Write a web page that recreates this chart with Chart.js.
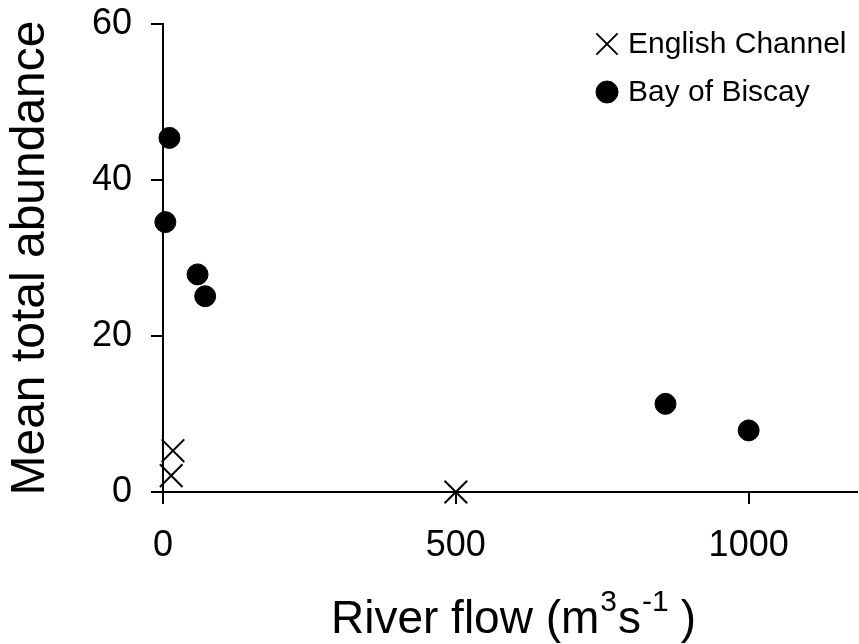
<!DOCTYPE html>
<html>
<head>
<meta charset="utf-8">
<script src="https://cdn.jsdelivr.net/npm/chart.js@4.4.1/dist/chart.umd.min.js"></script>
<style>
  html, body { margin: 0; padding: 0; background: #fff; }
  #wrap { width: 859px; height: 644px; }
</style>
</head>
<body>
<div id="wrap"><canvas id="chart" width="859" height="644"></canvas></div>
<script>
// river flow (m3 s-1) vs mean total abundance
const channelFlow = [17, 14, 500];
const channelAbundance = [5.3, 2.1, 0];
const biscayFlow = [11, 4, 59, 72, 858, 1000];
const biscayAbundance = [45.4, 34.6, 27.9, 25.1, 11.3, 7.9];
const seriesNames = ['English Channel', 'Bay of Biscay'];
const xTicks = [0, 500, 1000];
const yTicks = [0, 20, 40, 60];

const FONT = 'Liberation Sans, Arial, sans-serif';

const toPoints = (xs, ys) => xs.map((x, i) => ({ x: x, y: ys[i] }));

// no extra room for tick labels, the plot box is fixed by layout padding
const noPad = s => { s.paddingTop = 0; s.paddingBottom = 0; s.paddingLeft = 0; s.paddingRight = 0; };

// legend in the top right corner of the plot
const cornerLegend = {
  id: 'cornerLegend',
  afterDraw(chart) {
    const ctx = chart.ctx;
    ctx.save();
    ctx.font = '30px ' + FONT;
    ctx.textBaseline = 'middle';
    chart.data.datasets.forEach((ds, i) => {
      const y = 44 + i * 48;
      const style = {
        pointStyle: ds.pointStyle,
        radius: ds.pointStyle === 'crossRot' ? 15 : ds.pointRadius + 0.5,
        borderWidth: ds.borderWidth
      };
      ctx.strokeStyle = '#000';
      ctx.fillStyle = '#000';
      ctx.lineWidth = ds.borderWidth;
      Chart.helpers.drawPoint(ctx, style, 607, y);
      ctx.fillText(ds.label, 628, y + 1);
    });
    ctx.restore();
  }
};

// x title with superscripts
const xTitle = {
  id: 'xTitle',
  afterDraw(chart) {
    const ctx = chart.ctx;
    const parts = [
      ['River flow (m', false, 1], ['3', true, 1], ['s', false, 1], ['-1', true, 12], [')', false, 0]
    ];
    const big = '46px ' + FONT, small = '30px ' + FONT;
    let x = 331;
    const base = 633;
    ctx.save();
    ctx.fillStyle = '#000';
    ctx.textBaseline = 'alphabetic';
    ctx.textAlign = 'left';
    parts.forEach(p => {
      ctx.font = p[1] ? small : big;
      ctx.fillText(p[0], x, p[1] ? base - 22 : base);
      x += ctx.measureText(p[0]).width + p[2];
    });
    ctx.restore();
  }
};

new Chart(document.getElementById('chart'), {
  type: 'scatter',
  data: {
    datasets: [
      {
        label: seriesNames[0],
        data: toPoints(channelFlow, channelAbundance),
        pointStyle: 'crossRot',
        pointRadius: 16,
        borderWidth: 2,
        borderColor: '#000',
        backgroundColor: '#000',
        clip: false
      },
      {
        label: seriesNames[1],
        data: toPoints(biscayFlow, biscayAbundance),
        pointStyle: 'circle',
        pointRadius: 10.5,
        borderWidth: 1,
        borderColor: '#000',
        backgroundColor: '#000',
        clip: false
      }
    ]
  },
  options: {
    responsive: false,
    animation: false,
    events: [],
    layout: { autoPadding: false, padding: { top: 24, right: 2, left: 0, bottom: 0 } },
    plugins: {
      legend: { display: false },
      tooltip: { enabled: false }
    },
    scales: {
      x: {
        type: 'linear',
        min: 0,
        max: 1185,
        afterBuildTicks: s => { s.ticks = xTicks.map(v => ({ value: v })); },
        afterFit: s => { s.height = 152; noPad(s); },
        border: { display: true, color: '#000', width: 2 },
        grid: { drawOnChartArea: false, drawTicks: true, tickLength: 12, color: '#000', lineWidth: 2 },
        ticks: { color: '#000', font: { family: FONT, size: 36 }, padding: 20, maxRotation: 0, callback: v => String(v) }
      },
      y: {
        type: 'linear',
        min: 0,
        max: 60,
        afterBuildTicks: s => { s.ticks = yTicks.map(v => ({ value: v })); },
        afterFit: s => { s.width = 163; noPad(s); },
        border: { display: true, color: '#000', width: 2 },
        grid: { drawOnChartArea: false, drawTicks: true, tickLength: 12, color: '#000', lineWidth: 2 },
        ticks: { color: '#000', font: { family: FONT, size: 36 }, padding: 19, callback: v => String(v) },
        title: {
          display: true,
          text: 'Mean total abundance',
          color: '#000',
          font: { family: FONT, size: 48 },
          padding: { top: 2, bottom: 0 }
        }
      }
    }
  },
  plugins: [cornerLegend, xTitle]
});
</script>
</body>
</html>
